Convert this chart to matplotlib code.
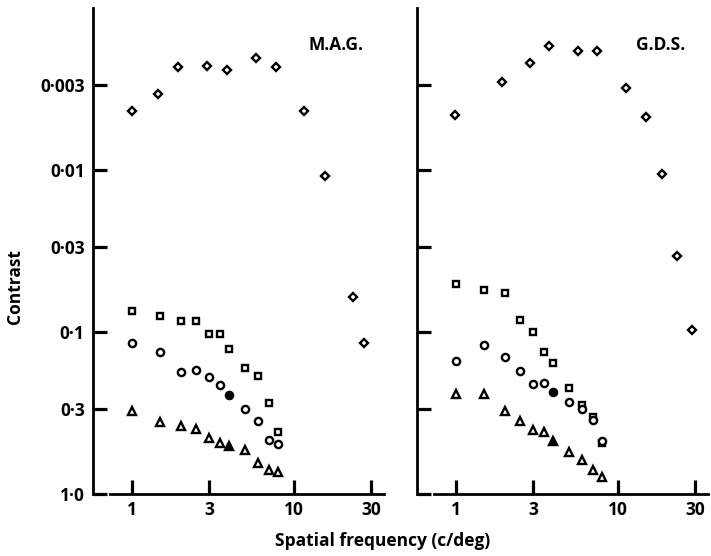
import matplotlib.pyplot as plt
from matplotlib.ticker import FixedLocator, NullLocator

plt.rcParams['font.family'] = ['Open Sans', 'DejaVu Sans']
plt.rcParams['font.weight'] = 'bold'

# spatial frequencies (c/deg) for square / circle / triangle series
freq = [1, 1.5, 2, 2.5, 3, 3.5, 4, 5, 6, 7, 8]

# M.A.G.
mag_diamond_f = [1.0, 1.45, 1.93, 2.92, 3.84, 5.8, 7.7, 11.5, 15.6, 23.2, 27.2]
mag_diamond = [0.0043, 0.0034, 0.0023, 0.00228, 0.0024, 0.00204, 0.0023,
               0.0043, 0.0109, 0.061, 0.117]
mag_square = [0.0739, 0.0793, 0.0859, 0.0859, 0.1024, 0.1024, 0.1274,
              0.1661, 0.1877, 0.2755, 0.414]
mag_circle = [0.1175, 0.1334, 0.1774, 0.1716, 0.1888, 0.2115, 0.2438,
              0.2999, 0.3528, 0.4642, 0.491]
mag_triangle = [0.3074, 0.3579, 0.3788, 0.3953, 0.451, 0.4864, 0.5077,
                0.5373, 0.6463, 0.711, 0.7287]

# G.D.S.
gds_diamond_f = [0.99, 1.92, 2.87, 3.77, 5.63, 7.46, 11.2, 15.0, 18.6, 23.3, 28.6]
gds_diamond = [0.0046, 0.00285, 0.00219, 0.00172, 0.00183, 0.00183, 0.00313,
               0.00469, 0.0106, 0.0338, 0.0972]
gds_square = [0.0508, 0.0553, 0.0572, 0.0843, 0.1, 0.1329, 0.1547,
              0.2207, 0.281, 0.3333, 0.4864]
gds_circle = [0.1504, 0.1208, 0.1421, 0.1733, 0.2094, 0.2073, 0.2356,
              0.2692, 0.2975, 0.349, 0.469]
gds_triangle = [0.2414, 0.2414, 0.3087, 0.3528, 0.4027, 0.416, 0.4729,
                0.5528, 0.6194, 0.711, 0.788]

filled_idx = 6  # the 4 c/deg point drawn filled

yticks = [0.003, 0.01, 0.03, 0.1, 0.3, 1.0]
ytick_labels = ['0·003', '0·01', '0·03', '0·1', '0·3', '1·0']
xticks = [1, 3, 10, 30]
xtick_labels = ['1', '3', '10', '30']

W, H = 711, 556
fig = plt.figure(figsize=(W / 100, H / 100), dpi=100)


def make_axes(x0, x1, y0=8, y1=494):
    return fig.add_axes([x0 / W, 1 - y1 / H, (x1 - x0) / W, (y1 - y0) / H])


def draw_panel(ax, d_f, d, sq, ci, tr, name, show_ylabels):
    ax.set_xscale('log')
    ax.set_yscale('log')
    ms_kw = dict(linestyle='none', color='black', mfc='white', mew=1.7, clip_on=False)
    ax.plot(d_f, d, marker='D', ms=4.2, **ms_kw)
    ax.plot(freq, sq, marker='s', ms=5, **ms_kw)
    for vals, mk, ms in [(ci, 'o', 5.2), (tr, '^', 5.8)]:
        open_f = [f for i, f in enumerate(freq) if i != filled_idx]
        open_v = [v for i, v in enumerate(vals) if i != filled_idx]
        ax.plot(open_f, open_v, marker=mk, ms=ms, **ms_kw)
        ax.plot([freq[filled_idx]], [vals[filled_idx]], marker=mk, ms=ms,
                linestyle='none', color='black', mfc='black', mew=1.7)

    ax.set_xlim(0.575, 37)
    ax.set_ylim(1.0, 0.001)
    ax.xaxis.set_major_locator(FixedLocator(xticks))
    ax.xaxis.set_minor_locator(NullLocator())
    ax.set_xticklabels(xtick_labels)
    ax.yaxis.set_major_locator(FixedLocator(yticks))
    ax.yaxis.set_minor_locator(NullLocator())
    if show_ylabels:
        ax.set_yticklabels(ytick_labels)
    else:
        ax.set_yticklabels([])

    for s in ['top', 'right']:
        ax.spines[s].set_visible(False)
    for s in ['left', 'bottom']:
        ax.spines[s].set_linewidth(2)
    ax.spines['bottom'].set_bounds(0.73, 36)
    ax.plot([0, 0.018], [0, 0], transform=ax.transAxes, color='black', lw=2,
            clip_on=False, solid_capstyle='butt')

    ax.tick_params(axis='both', direction='in', length=10, width=2.3,
                   labelsize=12.5)
    ax.tick_params(axis='x', pad=5)
    ax.tick_params(axis='y', pad=6)
    ax.text(0.83, 0.923, name, transform=ax.transAxes, ha='center', va='center',
            fontsize=12.5)


ax1 = make_axes(93, 386)
ax2 = make_axes(417, 710)
draw_panel(ax1, mag_diamond_f, mag_diamond, mag_square, mag_circle, mag_triangle,
           'M.A.G.', True)
draw_panel(ax2, gds_diamond_f, gds_diamond, gds_square, gds_circle, gds_triangle,
           'G.D.S.', False)

fig.text(15 / W, 1 - 287 / H, 'Contrast', rotation=90, ha='center', va='center',
         fontsize=12.5)
fig.text(383 / W, 1 - 541 / H, 'Spatial frequency (c/deg)', ha='center',
         va='center', fontsize=12.5)

fig.savefig('out.png', dpi=100)
